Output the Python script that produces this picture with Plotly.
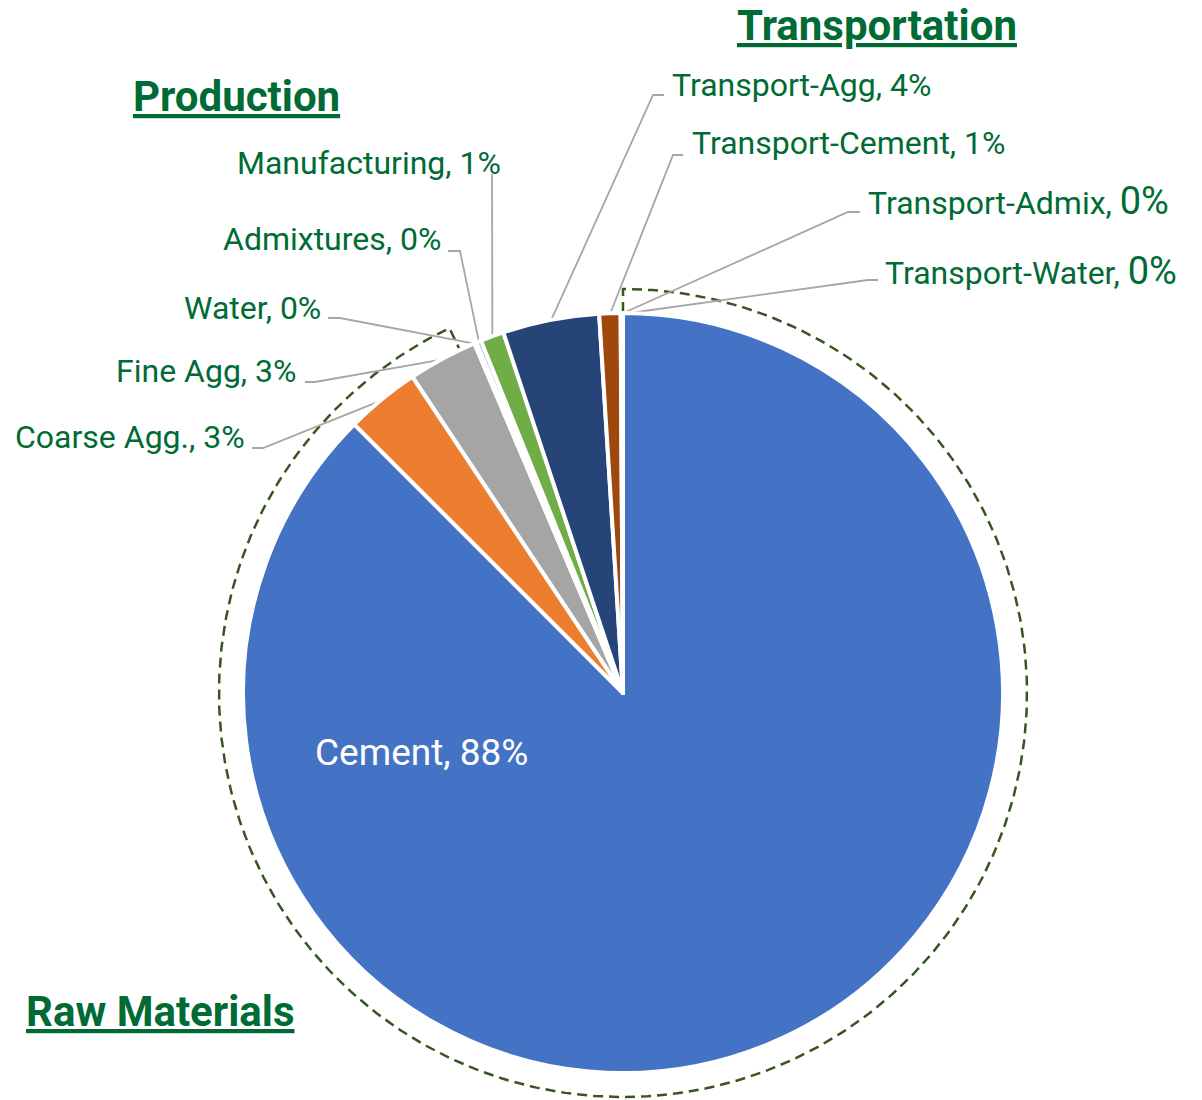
import math
import plotly.graph_objects as go

# ---------------- data ----------------
categories = ["Cement", "Coarse Agg.", "Fine Agg", "Water", "Admixtures",
              "Manufacturing", "Transport-Agg", "Transport-Cement",
              "Transport-Admix", "Transport-Water"]
shares = [87.5, 3.15, 2.95, 0.1, 0.2, 1.0, 4.1, 0.9, 0.05, 0.05]
slice_colors = ["#4472C4", "#ED7D31", "#A5A5A5", "#FFC000", "#5B9BD5",
                "#70AD47", "#264478", "#9E480E", "#636363", "#997300"]
group_titles = ["Production", "Transportation", "Raw Materials"]
raw_group = ["Cement", "Coarse Agg.", "Fine Agg"]

# ---------------- layout constants ----------------
W, H = 1202, 1100
CX, CY, R = 623, 693, 380          # pie centre / radius in page pixels
ARC_R0, ARC_R1 = 381, 404          # dashed group outline radii
ARC_TRIM_DEG = 2.4                 # outline stops a bit before group end
TEXT_GREEN = "#006B35"
LEADER = "#A6A6A6"
FONT = "Roboto"
LABEL_SIZE = 32
TITLE_SIZE = 42
CEMENT_SIZE = 37
BIG_PCT = {"Transport-Admix", "Transport-Water"}   # rendered with larger %

# label placement: text anchor x, y, side, elbow start x, elbow end x, elbow y
label_place = {
    "Coarse Agg.":      (247, 437, "right", 252, 263, 448),
    "Fine Agg":         (299, 371, "right", 305, 315, 382),
    "Water":            (323, 308, "right", 328, 340, 318),
    "Admixtures":       (443, 239, "right", 448, 460, 251),
    "Manufacturing":    (503, 163, "right", 492, 492, 174),
    "Transport-Agg":    (670, 85,  "left", 664, 653, 95),
    "Transport-Cement": (690, 143, "left", 683, 673, 155),
    "Transport-Admix":  (866, 201, "left", 860, 848, 212),
    "Transport-Water":  (883, 271, "left", 878, 868, 280),
}
cement_label_pos = (421, 752)
title_pos = {"Production": (236, 96), "Transportation": (877, 25),
             "Raw Materials": (160, 1011)}

total = sum(shares)


def polar(deg_cw_from_top, r):
    a = math.radians(deg_cw_from_top)
    return CX + r * math.sin(a), CY - r * math.cos(a)


# midpoint angle of each slice (clockwise from 12 o'clock)
mid_deg = {}
cum = 0.0
for c, v in zip(categories, shares):
    mid_deg[c] = (cum + v / 2) / total * 360
    cum += v

fig = go.Figure()

fig.add_trace(go.Pie(
    labels=categories, values=shares, sort=False, direction="clockwise",
    rotation=0, textinfo="none", hoverinfo="label+percent",
    marker=dict(colors=slice_colors, line=dict(color="white", width=4)),
    domain=dict(x=[(CX - R) / W, (CX + R) / W],
                y=[1 - (CY + R) / H, 1 - (CY - R) / H]),
    showlegend=False,
))

# dashed outline around the raw-material group
raw_sum = sum(v for c, v in zip(categories, shares) if c in raw_group)
arc_end = raw_sum / total * 360 - ARC_TRIM_DEG
xs, ys = [], []
x, y = polar(0, ARC_R0)
xs.append(x); ys.append(y)
n = 400
for i in range(n + 1):
    x, y = polar(arc_end * i / n, ARC_R1)
    xs.append(x); ys.append(y)
x, y = polar(arc_end, ARC_R0)
xs.append(x); ys.append(y)
fig.add_trace(go.Scatter(x=xs, y=ys, mode="lines", hoverinfo="skip",
                         line=dict(color="#375623", width=2.5, dash="10px,6px"),
                         showlegend=False))

# leader lines + labels
annotations = []
for c, v in zip(categories, shares):
    pct = f"{v / total * 100:.0f}%"
    if c == "Cement":
        annotations.append(dict(
            x=cement_label_pos[0], y=cement_label_pos[1], xref="x", yref="y",
            text=f"{c}, {pct}", showarrow=False, xanchor="center", yanchor="middle",
            font=dict(family=FONT, size=CEMENT_SIZE, color="white")))
        continue
    tx, ty, side, ex0, ex1, ey = label_place[c]
    sx, sy = polar(mid_deg[c], R - 1)
    fig.add_trace(go.Scatter(x=[ex0, ex1, sx], y=[ey, ey, sy], mode="lines",
                             hoverinfo="skip",
                             line=dict(color=LEADER, width=1.8),
                             showlegend=False))
    if c in BIG_PCT:
        txt = f"{c}, <span style='font-size:{LABEL_SIZE + 6}px'>{pct}</span>"
    else:
        txt = f"{c}, {pct}"
    annotations.append(dict(
        x=tx, y=ty, xref="x", yref="y", text=txt, showarrow=False,
        xanchor=side, yanchor="middle",
        font=dict(family=FONT, size=LABEL_SIZE, color=TEXT_GREEN)))

for t in group_titles:
    x, y = title_pos[t]
    annotations.append(dict(
        x=x, y=y, xref="x", yref="y", text=f"<b><u>{t}</u></b>",
        showarrow=False, xanchor="center", yanchor="middle",
        font=dict(family=FONT, size=TITLE_SIZE, color=TEXT_GREEN)))

fig.update_layout(
    width=W, height=H, margin=dict(l=0, r=0, t=0, b=0),
    paper_bgcolor="white", plot_bgcolor="rgba(0,0,0,0)",
    xaxis=dict(range=[0, W], visible=False, domain=[0, 1], fixedrange=True),
    yaxis=dict(range=[H, 0], visible=False, domain=[0, 1], fixedrange=True),
    annotations=annotations,
)

fig.write_html("out.html", config={"displayModeBar": False},
               post_script="document.body.style.margin='0';document.body.style.overflow='hidden';")
